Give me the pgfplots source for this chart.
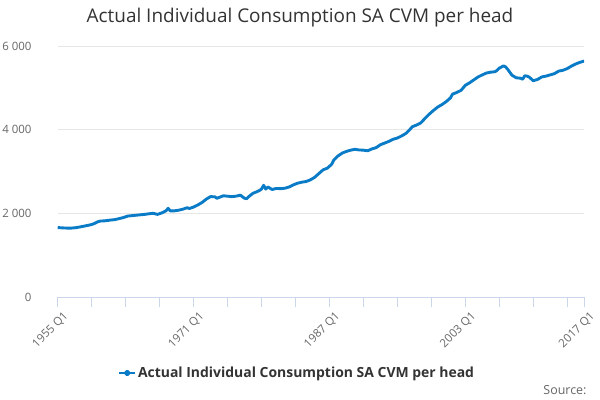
\documentclass[border=0pt]{standalone}
\usepackage{fontspec}
\setmainfont{Open Sans}
\usepackage{pgfplots}
\pgfplotsset{compat=1.18}
\definecolor{linec}{HTML}{0A7BC6}
\definecolor{gridc}{HTML}{E6E6E6}
\definecolor{axisc}{HTML}{CCD6EB}
\definecolor{tickc}{HTML}{666666}
\definecolor{titlec}{HTML}{333333}
\begin{document}
\begin{tikzpicture}
\useasboundingbox (0,0) rectangle (600bp,400bp);
\begin{axis}[
  at={(57.7bp,103bp)}, anchor=south west,
  scale only axis, width=526.5bp, height=251bp,
  xmin=0, xmax=248, ymin=0, ymax=6000,
  axis lines*=left,
  y axis line style={draw=none},
  x axis line style={color=axisc, line width=0.8pt},
  ytick={0,2000,4000,6000},
  yticklabels={0,2 000,4 000,6 000},
  ytick style={draw=none},
  xtick={0,64,128,192,248},
  xticklabels={1955 Q1,1971 Q1,1987 Q1,2003 Q1,2017 Q1},
  minor xtick={16,32,48,80,96,112,144,160,176,208,224,240},
  xtick style={color=axisc, line width=0.8pt},
  minor x tick style={color=axisc, line width=0.8pt},
  tick align=outside,
  major tick length=10bp, minor tick length=10bp,
  ymajorgrids,
  grid style={color=gridc, line width=0.8pt},
  tick label style={font=\fontsize{11.5}{13}\selectfont, color=tickc},
  yticklabel style={anchor=east, inner sep=0pt, xshift=-16bp},
  xticklabel style={rotate=45, anchor=north east, inner sep=1pt, xshift=2bp, yshift=-5bp},
  legend style={at={(0.455,-0.303)}, anchor=center, draw=none, fill=none,
    font=\fontsize{14}{16}\selectfont\bfseries, text=titlec},
  legend image code/.code={
    \draw[linec, line width=1.6pt] (0bp,0bp) -- (16bp,0bp);
    \fill[linec] (8bp,0bp) circle (1.8pt);
  },
]
\addplot[linec, line width=2.9pt, line join=round] coordinates {
(0,1660) (3,1650) (6,1645) (9,1660) (12,1690) (15,1720) (17,1750) (19,1800)
(20,1815) (22,1820) (25,1840) (27,1850) (29,1875) (31,1900) (33,1935) (35,1945)
(37,1955) (39,1965) (41,1975) (43,1990) (45,2000) (47,1975) (49,2010) (51,2060)
(52,2120) (53,2060) (55,2060) (57,2075) (59,2100) (61,2135) (62,2115) (64,2150)
(66,2200) (68,2260) (70,2340) (72,2400) (74,2395) (75,2360) (76,2380) (78,2420)
(80,2410) (82,2400) (84,2410) (86,2435) (88,2360) (89,2350) (90,2400) (92,2480)
(94,2520) (95,2545) (96,2580) (97,2670) (98,2580) (99,2630) (100,2600) (101,2570)
(103,2595) (105,2590) (107,2600) (109,2630) (111,2680) (113,2720) (115,2745) (117,2760)
(119,2800) (121,2860) (123,2950) (125,3040) (127,3080) (129,3170) (130,3270) (132,3370)
(134,3440) (136,3480) (138,3510) (140,3530) (142,3515) (144,3510) (146,3495) (148,3540)
(150,3570) (152,3640) (154,3680) (156,3720) (158,3770) (160,3800) (162,3850) (164,3910)
(166,4010) (167,4070) (169,4110) (171,4160) (173,4270) (175,4370) (177,4460) (179,4540)
(181,4600) (183,4670) (185,4760) (186,4850) (188,4890) (190,4940) (192,5060) (194,5120)
(196,5190) (198,5260) (200,5310) (202,5355) (204,5375) (206,5385) (207,5420) (208,5470)
(210,5525) (211,5500) (212,5440) (213,5370) (214,5300) (216,5240) (218,5230) (219,5205)
(220,5290) (221,5280) (222,5260) (224,5170) (226,5200) (228,5260) (230,5280) (232,5310)
(234,5340) (236,5400) (238,5420) (240,5460) (242,5520) (244,5570) (246,5610) (248,5640)
};
\addlegendentry{Actual Individual Consumption SA CVM per head}
\end{axis}
\node[font=\fontsize{19}{22}\selectfont, text=titlec] at (300bp,382bp) {Actual Individual Consumption SA CVM per head};
\node[font=\fontsize{12.5}{15}\selectfont, text=tickc, anchor=east] at (590bp,10bp) {Source:};
\end{tikzpicture}
\end{document}
